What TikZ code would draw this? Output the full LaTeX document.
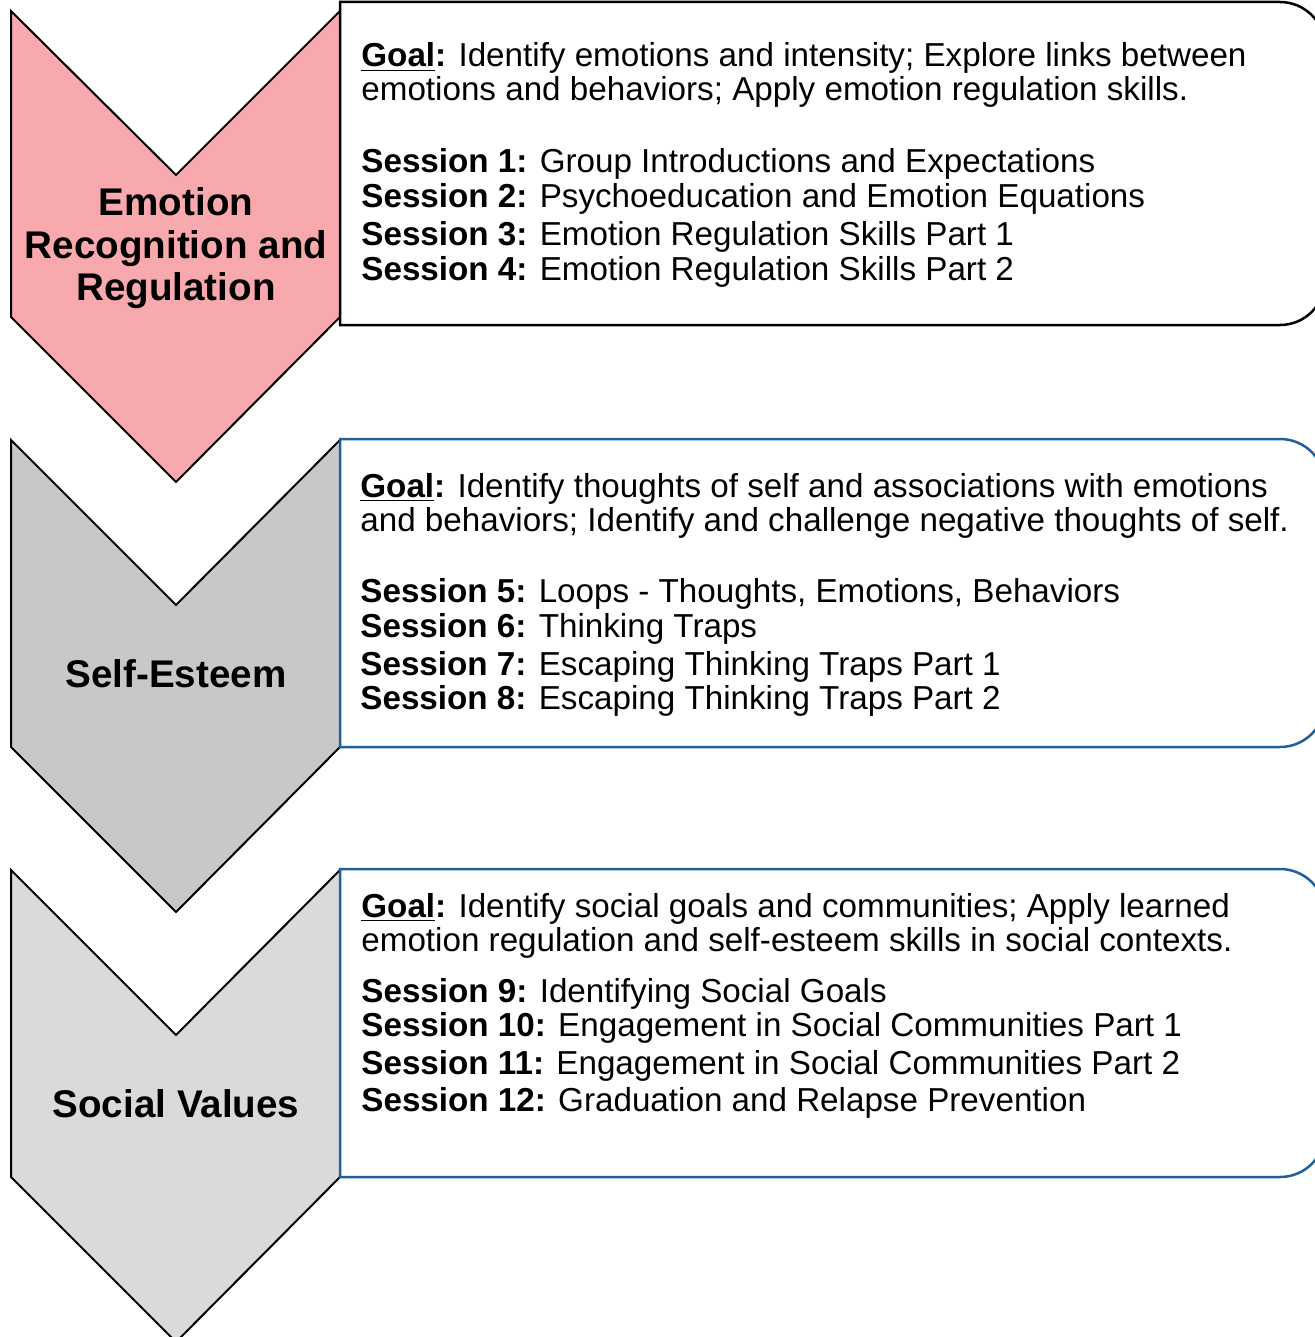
\documentclass[tikz,border=0pt]{standalone}
\usepackage{fontspec}
\setmainfont{Liberation Sans}
\definecolor{pinkfill}{HTML}{F7A9AE}
\definecolor{grayA}{HTML}{C8C8C8}
\definecolor{grayB}{HTML}{DADADA}
\definecolor{boxblue}{HTML}{1F5F9E}
\newcommand{\sess}[1]{\textbf{Session #1:}}
\newcommand{\goal}{\textbf{\underline{Goal}:}}
\begin{document}
\begin{tikzpicture}[x=0.5pt,y=-0.5pt,
  chev/.style={draw=black,line width=1pt,line join=miter},
  panel/.style={line width=1.25pt,fill=white},
  body/.style={anchor=base west,inner sep=0pt,font=\fontsize{16.6pt}{19pt}\selectfont},
  stage/.style={anchor=base,inner sep=0pt,font=\fontsize{19.3pt}{22pt}\selectfont\bfseries}]
\useasboundingbox (0,0) rectangle (1315,1337);
\clip (0,0) rectangle (1315,1337);

% ---- chevrons ----
\draw[chev,fill=pinkfill] (11,11) -- (176,175) -- (340,11) -- (340,317) -- (176,482) -- (11,317) -- cycle;
\draw[chev,fill=grayA] (11,440) -- (176,605) -- (340,440) -- (340,747) -- (176,912) -- (11,747) -- cycle;
\draw[chev,fill=grayB] (11,870) -- (176,1035) -- (340,870) -- (340,1177) -- (176,1342) -- (11,1177) -- cycle;

% ---- panels with rounded right side ----
\draw[panel,draw=black] (340,2) -- (1280,2) arc[start angle=-90,end angle=0,radius=45]
  -- (1325,280) arc[start angle=0,end angle=90,radius=45] -- (340,325) -- cycle;
\draw[panel,draw=boxblue] (340,439) -- (1280,439) arc[start angle=-90,end angle=0,radius=45]
  -- (1325,702) arc[start angle=0,end angle=90,radius=45] -- (340,747) -- cycle;
\draw[panel,draw=boxblue] (340,869) -- (1280,869) arc[start angle=-90,end angle=0,radius=45]
  -- (1325,1132) arc[start angle=0,end angle=90,radius=45] -- (340,1177) -- cycle;

% ---- stage labels ----
\node[stage] (s1a) at (176,215) {Emotion};
\node[stage] (s1b) at (176,258) {Recognition and};
\node[stage] (s1c) at (176,300) {Regulation};
\node[stage] (s2) at (176,687) {Self-Esteem};
\node[stage] (s3) at (176,1117) {Social Values};

% ---- stage 1 text ----
\node[body] (g1a) at (361,67) {\goal{} Identify emotions and intensity; Explore links between};
\node[body] (g1b) at (361,101) {emotions and behaviors; Apply emotion regulation skills.};
\node[body] (p1) at (361,173) {\sess{1} Group Introductions and Expectations};
\node[body] (p2) at (361,208) {\sess{2} Psychoeducation and Emotion Equations};
\node[body] (p3) at (361,245) {\sess{3} Emotion Regulation Skills Part 1};
\node[body] (p4) at (361,280) {\sess{4} Emotion Regulation Skills Part 2};

% ---- stage 2 text ----
\node[body] (g2a) at (360,497) {\goal{} Identify thoughts of self and associations with emotions};
\node[body] (g2b) at (360,531) {and behaviors; Identify and challenge negative thoughts of self.};
\node[body] (p5) at (360,602) {\sess{5} Loops - Thoughts, Emotions, Behaviors};
\node[body] (p6) at (360,637) {\sess{6} Thinking Traps};
\node[body] (p7) at (360,675) {\sess{7} Escaping Thinking Traps Part 1};
\node[body] (p8) at (360,709) {\sess{8} Escaping Thinking Traps Part 2};

% ---- stage 3 text ----
\node[body] (g3a) at (361,917) {\goal{} Identify social goals and communities; Apply learned};
\node[body] (g3b) at (361,951) {emotion regulation and self-esteem skills in social contexts.};
\node[body] (p9) at (361,1002) {\sess{9} Identifying Social Goals};
\node[body] (p10) at (361,1036) {\sess{10} Engagement in Social Communities Part 1};
\node[body] (p11) at (361,1074) {\sess{11} Engagement in Social Communities Part 2};
\node[body] (p12) at (361,1111) {\sess{12} Graduation and Relapse Prevention};
\end{tikzpicture}
\end{document}
